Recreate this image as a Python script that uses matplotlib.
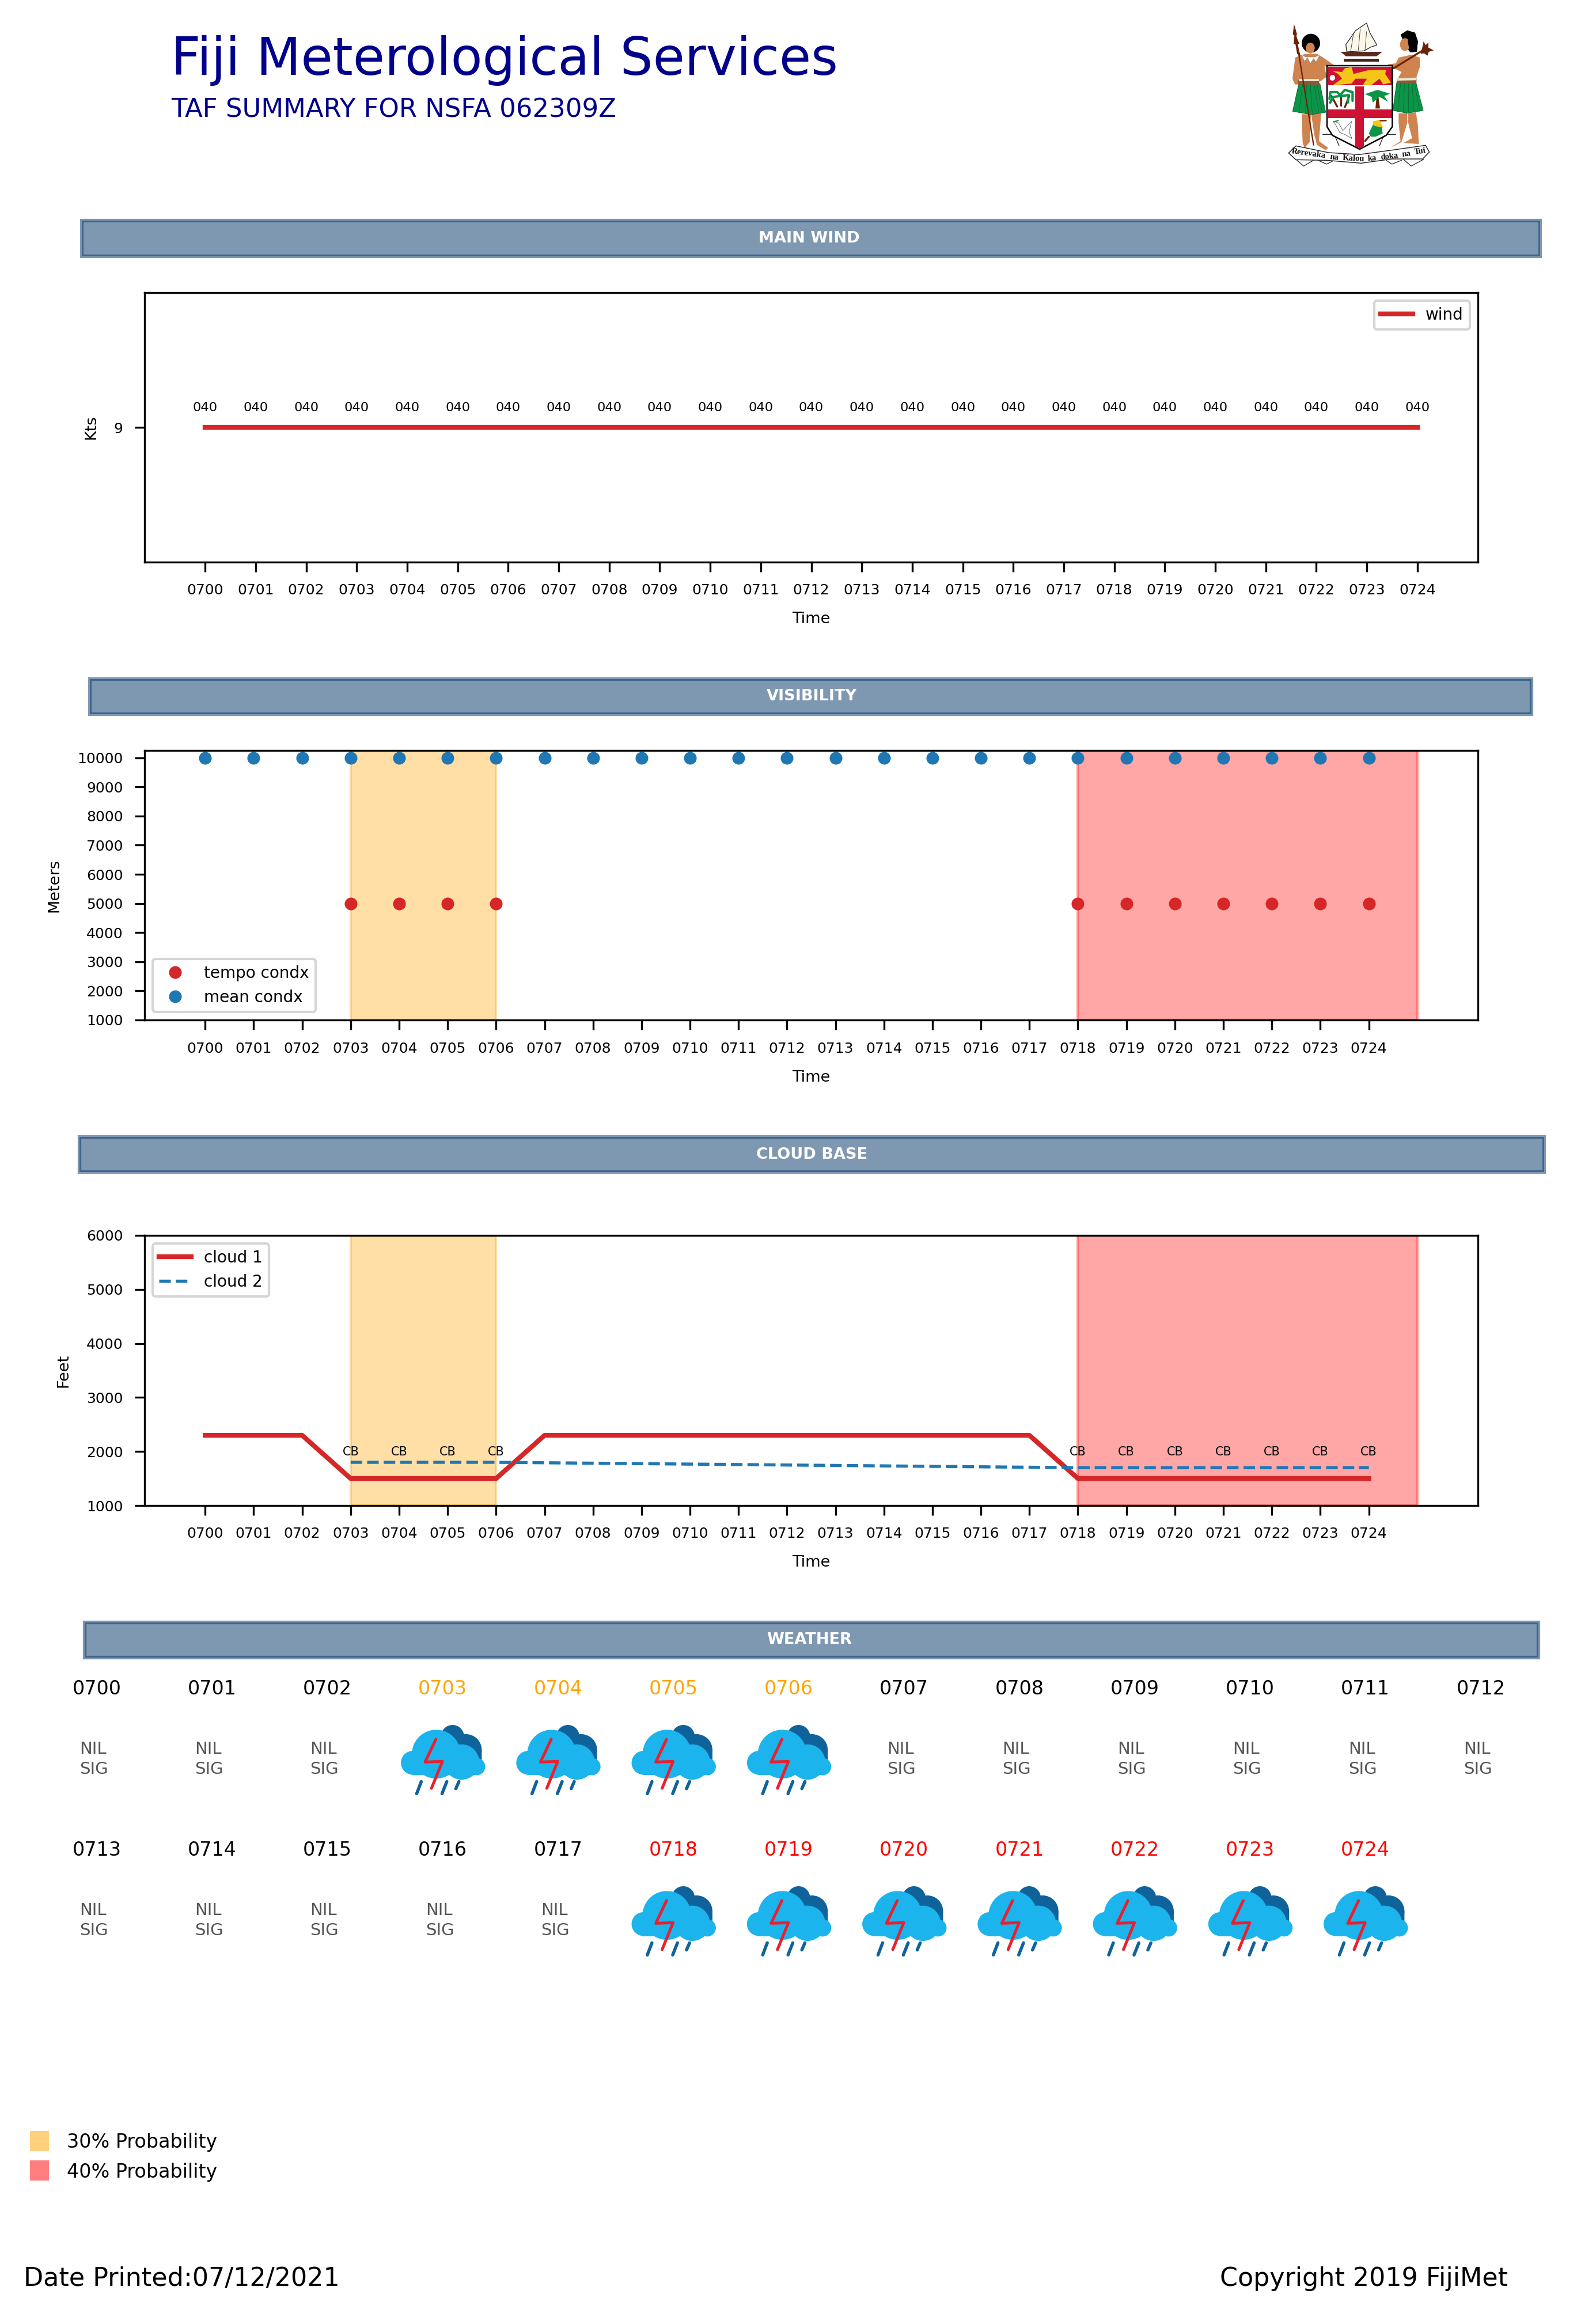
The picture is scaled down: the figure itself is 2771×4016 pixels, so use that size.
import numpy as np
import matplotlib
matplotlib.use("Agg")
import matplotlib.pyplot as plt
from matplotlib.patches import Rectangle, Polygon, Circle, Ellipse

W, H = 2771, 4016
DPI = 300
plt.rcParams['font.family'] = ['DejaVu Sans']

# ---------- data ----------
hours = ["%04d" % (700 + i) for i in range(25)]
hour_pos = list(range(25))
wind_speed = [9] * 25
wind_dir = ["040"] * 25

mean_vis = [10000] * 25
tempo_hours = [3, 4, 5, 6, 18, 19, 20, 21, 22, 23, 24]
tempo_vis = [5000] * 11

cloud1 = [2300, 2300, 2300, 1500, 1500, 1500, 1500, 2300, 2300, 2300, 2300, 2300, 2300,
          2300, 2300, 2300, 2300, 2300, 1500, 1500, 1500, 1500, 1500, 1500, 1500]
cloud2_hours = [3, 4, 5, 6, 18, 19, 20, 21, 22, 23, 24]
cloud2 = [1800, 1800, 1800, 1800, 1700, 1700, 1700, 1700, 1700, 1700, 1700]
cb_label_y = 1930

prob30_span = (3, 6)
prob40_span = (18, 25)
vis_ticks = [1000, 2000, 3000, 4000, 5000, 6000, 7000, 8000, 9000, 10000]
cloud_ticks = [1000, 2000, 3000, 4000, 5000, 6000]

# weather: probability group per hour (0 = nil sig)
wx_prob = [0, 0, 0, 30, 30, 30, 30, 0, 0, 0, 0, 0, 0,
           0, 0, 0, 0, 0, 40, 40, 40, 40, 40, 40, 40]
banners = ["MAIN WIND", "VISIBILITY", "CLOUD BASE", "WEATHER"]

RED, BLUE = '#d62728', '#1f77b4'
NAVY = '#00008B'

fig = plt.figure(figsize=(W / DPI, H / DPI), dpi=DPI, facecolor='white')

# overlay in pixel coordinates for the page furniture
bg = fig.add_axes([0, 0, 1, 1])
bg.set_xlim(0, W)
bg.set_ylim(H, 0)
bg.axis('off')


def pt(px):
    return px * 72.0 / DPI


def axes_px(x0, y0, x1, y1):
    return fig.add_axes([x0 / W, 1 - y1 / H, (x1 - x0) / W, (y1 - y0) / H])


# ---------- header ----------
bg.text(297, 105, "Fiji Meterological Services", color=NAVY, fontsize=21.5, va='center', ha='left')
bg.text(297, 191, "TAF SUMMARY FOR NSFA 062309Z", color=NAVY, fontsize=10.8, va='center', ha='left')


def draw_logo():
    X = lambda x: 2150 + x / 3.0
    Y = lambda y: y / 3.0
    SKIN, GREEN, BROWN, CRIM, YEL = '#CF8450', '#0C9448', '#6B2408', '#CE1234', '#F5C518'
    DKGREEN = '#075E2E'

    def poly(pts, fc, ec='none', lw=0.0, z=2):
        bg.add_patch(Polygon([(X(a), Y(b)) for a, b in pts], closed=True, fc=fc, ec=ec, lw=lw, zorder=z))

    def line(pts, c, lw, z=3):
        bg.plot([X(a) for a, _ in pts], [Y(b) for _, b in pts], color=c, lw=lw, zorder=z,
                solid_capstyle='round', solid_joinstyle='round')

    def ell(cx, cy, w, h, fc, z=3):
        bg.add_patch(Ellipse((X(cx), Y(cy)), w / 3.0, h / 3.0, fc=fc, ec='none', zorder=z))

    # scroll curls behind
    line([(440, 700), (500, 700), (525, 760)], '#222222', 0.3, 1)
    line([(820, 700), (760, 700), (735, 760)], '#222222', 0.3, 1)
    line([(300, 830), (340, 865), (400, 830)], '#222222', 0.3, 1)
    line([(860, 830), (900, 865), (965, 830)], '#222222', 0.3, 1)
    line([(415, 835), (460, 855), (490, 840)], '#222222', 0.3, 1)
    line([(770, 835), (800, 855), (850, 835)], '#222222', 0.3, 1)

    # left warrior
    poly([(330, 595), (378, 595), (372, 740), (345, 770), (335, 745)], SKIN)
    poly([(380, 595), (432, 590), (420, 735), (468, 770), (455, 782), (410, 755), (395, 700)], SKIN)
    poly([(315, 435), (425, 435), (455, 585), (380, 597), (283, 580)], GREEN, DKGREEN, 0.2)
    for top, bot in [(335, 315), (355, 350), (375, 385), (395, 420), (410, 438)]:
        line([(top, 440), (bot, 590)], DKGREEN, 0.15, 2.5)
    poly([(295, 300), (350, 280), (410, 280), (440, 300), (460, 400), (425, 425), (320, 425), (300, 340)], SKIN)
    poly([(295, 310), (330, 320), (340, 370), (320, 440), (295, 440), (282, 410)], SKIN)
    poly([(430, 292), (500, 340), (505, 355), (470, 358), (447, 340), (458, 405), (437, 400)], SKIN)
    poly([(313, 418), (420, 418), (420, 440), (313, 440)], '#8A5A30')
    poly([(315, 412), (420, 412), (420, 424), (315, 424)], '#E8E4D8')
    ell(378, 225, 96, 98, 'black')
    ell(375, 250, 46, 56, SKIN, 4)
    poly([(330, 285), (345, 320), (360, 300), (375, 330), (392, 305), (405, 322), (425, 285),
          (400, 297), (350, 297)], 'white', '#888888', 0.15, 4)
    line([(292, 140), (392, 755)], BROWN, 0.55, 5)
    poly([(290, 125), (306, 180), (300, 185), (318, 228), (308, 230), (325, 295), (306, 280),
          (298, 232), (288, 228), (292, 185), (284, 180)], BROWN, z=5)

    # right warrior
    poly([(835, 590), (880, 590), (880, 640), (850, 740), (790, 772), (845, 735), (835, 640)], SKIN)
    poly([(885, 590), (925, 585), (935, 650), (940, 750), (860, 745), (905, 720), (885, 640)], SKIN)
    poly([(825, 430), (925, 430), (963, 575), (880, 590), (805, 575)], GREEN, DKGREEN, 0.2)
    for top, bot in [(845, 830), (865, 860), (885, 885), (905, 915), (918, 945)]:
        line([(top, 435), (bot, 582)], DKGREEN, 0.15, 2.5)
    poly([(835, 300), (900, 285), (945, 300), (945, 350), (925, 410), (830, 410), (850, 375), (810, 355),
          (775, 345), (780, 335), (820, 330)], SKIN)
    poly([(825, 408), (928, 404), (928, 435), (825, 437)], '#8A5A30')
    poly([(828, 408), (926, 404), (926, 418), (828, 420)], '#E8E4D8')
    poly([(845, 180), (880, 158), (920, 170), (935, 215), (930, 270), (895, 272), (870, 240)], 'black', z=3)
    ell(868, 232, 52, 66, SKIN, 4)
    poly([(880, 180), (920, 170), (935, 215), (930, 270), (895, 272), (885, 230)], 'black', z=5)
    line([(810, 355), (965, 260)], BROWN, 0.8, 5)
    poly([(960, 240), (965, 215), (975, 235), (990, 222), (990, 248), (1018, 262), (992, 270),
          (985, 290), (968, 278), (950, 280)], BROWN, z=5)

    # canoe
    poly([(565, 270), (560, 232), (610, 160), (668, 120), (685, 170), (722, 235), (690, 245), (655, 265)],
         '#FBF8EA', '#222222', 0.3)
    line([(600, 175), (585, 268)], '#333333', 0.2)
    line([(635, 150), (625, 262)], '#333333', 0.2)
    line([(668, 165), (660, 258)], '#333333', 0.2)
    poly([(533, 270), (750, 270), (720, 293), (560, 293)], '#5B2C1E')
    poly([(550, 305), (732, 305), (732, 322), (550, 322)], '#4A2418')

    # shield
    shield = [(462, 342), (802, 342), (802, 660), (770, 705), (632, 777), (490, 705), (462, 660)]
    poly(shield, 'white', 'black', 0.6, 6)
    poly([(468, 348), (798, 348), (798, 445), (468, 445)], CRIM, z=6)
    poly([(608, 450), (654, 450), (654, 768), (632, 772), (608, 762)], CRIM, z=6)
    poly([(468, 570), (798, 570), (798, 615), (468, 615)], CRIM, z=6)
    poly([(490, 370), (540, 375), (555, 355), (590, 350), (600, 385), (680, 365), (770, 365), (765, 385),
          (795, 430), (755, 440), (735, 410), (690, 445), (650, 440), (670, 410), (610, 410), (590, 435),
          (490, 445), (540, 410), (520, 385)], YEL, z=7)
    ell(490, 405, 28, 30, 'white', 8)
    # left palms
    for a, b in [((515, 555), (485, 500)), ((535, 548), (535, 490)), ((555, 558), (578, 500))]:
        line([a, b], BROWN, 0.8, 7)
    for pts in [[(475, 515), (480, 480), (515, 480), (530, 495)],
                [(478, 535), (495, 505), (530, 500)],
                [(530, 495), (555, 468), (595, 480), (595, 525)],
                [(540, 500), (575, 495), (570, 535)]]:
        line(pts, GREEN, 1.0, 8)
    # right palm
    poly([(714, 565), (738, 565), (730, 505), (720, 505)], BROWN, z=7)
    poly([(660, 490), (725, 468), (790, 488), (760, 500), (780, 530), (735, 505), (700, 535), (695, 505)],
         GREEN, z=8)
    # dove
    poly([(497, 632), (522, 640), (545, 680), (590, 632), (577, 688), (592, 722), (558, 702), (528, 690)],
         'white', '#555555', 0.2, 8)
    line([(495, 635), (520, 628)], GREEN, 0.5, 8)
    # bananas
    poly([(680, 695), (702, 648), (745, 650), (752, 695), (715, 712), (690, 712)], GREEN, z=8)
    poly([(700, 632), (735, 625), (755, 665), (705, 655)], YEL, z=9)
    line([(735, 628), (768, 628)], BROWN, 0.6, 8)
    line([(660, 735), (680, 712)], BROWN, 0.8, 8)

    # motto scroll
    poly([(262, 797), (300, 760), (470, 795), (630, 805), (800, 782), (975, 757), (995, 792), (960, 828),
          (800, 828), (640, 850), (460, 835), (300, 832)], 'white', '#222222', 0.35, 9)
    for word, zx, zy, rot in [("Rerevaka", 365, 800, -8), ("na", 500, 820, -7), ("Kalou", 600, 828, -3),
                              ("ka", 698, 825, 3), ("doka", 787, 816, 6), ("na", 875, 804, 7), ("Tui", 945, 790, 8)]:
        bg.text(X(zx), Y(zy), word, fontsize=3.5, family='Liberation Serif', fontweight='bold',
                rotation=rot, ha='center', va='center', zorder=10, color='#111111')


draw_logo()

# ---------- banners ----------
banner_boxes = [(139, 380, 2677, 448), (153, 1176, 2662, 1243), (135, 1971, 2684, 2038), (144, 2814, 2674, 2881)]
banner_text_x = [1405, 1409, 1410, 1405]
for name, tx, (x0, y0, x1, y1) in zip(banners, banner_text_x, banner_boxes):
    bg.add_patch(Rectangle((x0 + 3, y0 + 3), x1 - x0 - 6, y1 - y0 - 6, fc='#003366', ec='#003366',
                           alpha=0.5, lw=1.5))
    bg.text(tx, (y0 + y1) / 2.0, name, color='white', fontsize=6.5, fontweight='bold',
            ha='center', va='center')


# ---------- charts ----------
def style(ax, ylabel):
    ax.set_xticks(hour_pos)
    ax.set_xticklabels(hours)
    ax.tick_params(axis='both', labelsize=6, length=4, width=0.8, pad=5)
    ax.set_xlabel("Time", fontsize=6.5, labelpad=6)
    ax.set_ylabel(ylabel, fontsize=6.5, labelpad=6.4)


def spans(ax):
    ax.axvspan(*prob30_span, color='orange', alpha=0.35)
    ax.axvspan(*prob40_span, color='red', alpha=0.35)


# wind
ax1 = axes_px(251, 508, 2566, 976)
ax1.plot(hour_pos, wind_speed, color=RED, lw=2, label='wind')
for h, s, d in zip(hour_pos, wind_speed, wind_dir):
    ax1.annotate(d, (h, s), xytext=(0, 6.7), textcoords='offset points', ha='center', va='baseline', fontsize=5.4)
ax1.set_ylim(8, 10)
ax1.set_yticks([9])
style(ax1, "Kts")
ax1.legend(loc='upper right', fontsize=6.7)

# visibility
ax2 = axes_px(251, 1303, 2566, 1771)
spans(ax2)
ax2.plot(tempo_hours, tempo_vis, ls='', marker='o', ms=4.3, color=RED, label='tempo condx')
ax2.plot(hour_pos, mean_vis, ls='', marker='o', ms=4.3, color=BLUE, label='mean condx')
ax2.set_ylim(1000, 10250)
ax2.set_yticks(vis_ticks)
style(ax2, "Meters")
ax2.legend(loc='lower left', fontsize=6.7)

# cloud
ax3 = axes_px(251, 2145, 2566, 2614)
spans(ax3)
ax3.plot(hour_pos, cloud1, color=RED, lw=2, label='cloud 1')
ax3.plot(cloud2_hours, cloud2, color=BLUE, lw=1.3, ls='--', label='cloud 2')
for h in cloud2_hours:
    ax3.text(h, cb_label_y, "CB", fontsize=5, ha='center', va='baseline')
ax3.set_ylim(1000, 6000)
ax3.set_yticks(cloud_ticks)
style(ax3, "Feet")
ax3.legend(loc='upper left', fontsize=6.7)


# ---------- weather ----------
def draw_icon(cx, cy):
    # icon drawn around (cx, cy); local units match a 3x crop of the icon
    ox, oy = cx - 267 / 3.0, cy - 228 / 3.0
    P = lambda x, y: (ox + x / 3.0, oy + y / 3.0)
    DARK, LIGHT, BOLT = '#10629B', '#1BB4EC', '#E8202F'
    for x, y, r in [(315, 105, 60), (385, 175, 82)]:
        bg.add_patch(Circle(P(x, y), r / 3.0, fc=DARK, ec='none', zorder=2))
    bg.add_patch(Polygon([P(300, 110), P(467, 175), P(467, 230), P(330, 230)], fc=DARK, ec='none', zorder=2))
    for x, y, r in [(108, 242, 62), (230, 197, 127), (362, 238, 92), (440, 262, 45)]:
        bg.add_patch(Circle(P(x, y), r / 3.0, fc=LIGHT, ec='none', zorder=3))
    bg.add_patch(Polygon([P(105, 240), P(445, 240), P(445, 305), P(105, 305)], fc=LIGHT, ec='none', zorder=3))
    pts = [P(228, 120), P(172, 238), P(262, 235), P(205, 375)]
    bg.plot([p[0] for p in pts], [p[1] for p in pts], color=BOLT, lw=pt(5), zorder=4,
            solid_capstyle='round', solid_joinstyle='round')
    for a, b in [((152, 340), (128, 403)), ((285, 340), (260, 403)), ((348, 340), (332, 377))]:
        p, q = P(*a), P(*b)
        bg.plot([p[0], q[0]], [p[1], q[1]], color=DARK, lw=pt(5.5), zorder=4, solid_capstyle='round')


time_colors = {0: 'black', 30: 'orange', 40: 'red'}
for i, (label, prob) in enumerate(zip(hours, wx_prob)):
    row, col = divmod(i, 13)
    cx = 168 + 200.25 * col
    bg.text(cx, 2933 + 280 * row, label, color=time_colors[prob], fontsize=8, ha='center', va='center')
    if prob:
        draw_icon(cx + 1, 3056 + 280 * row)
    else:
        bg.text(cx - 30, 3037 + 280 * row, "NIL", color='#555555', fontsize=7, ha='left', va='center')
        bg.text(cx - 30, 3072 + 280 * row, "SIG", color='#555555', fontsize=7, ha='left', va='center')

# ---------- probability key ----------
bg.add_patch(Rectangle((52, 3700), 33, 35, fc='orange', ec='none', alpha=0.5))
bg.add_patch(Rectangle((52, 3751), 33, 35, fc='red', ec='none', alpha=0.5))
bg.text(116, 3720, "30% Probability", fontsize=8, ha='left', va='center')
bg.text(116, 3771, "40% Probability", fontsize=8, ha='left', va='center')

# ---------- footer ----------
bg.text(41, 3956, "Date Printed:07/12/2021", fontsize=10.65, ha='left', va='center')
bg.text(2118, 3956, "Copyright 2019 FijiMet", fontsize=10.65, ha='left', va='center')

fig.savefig("out.png", dpi=DPI, facecolor='white')
